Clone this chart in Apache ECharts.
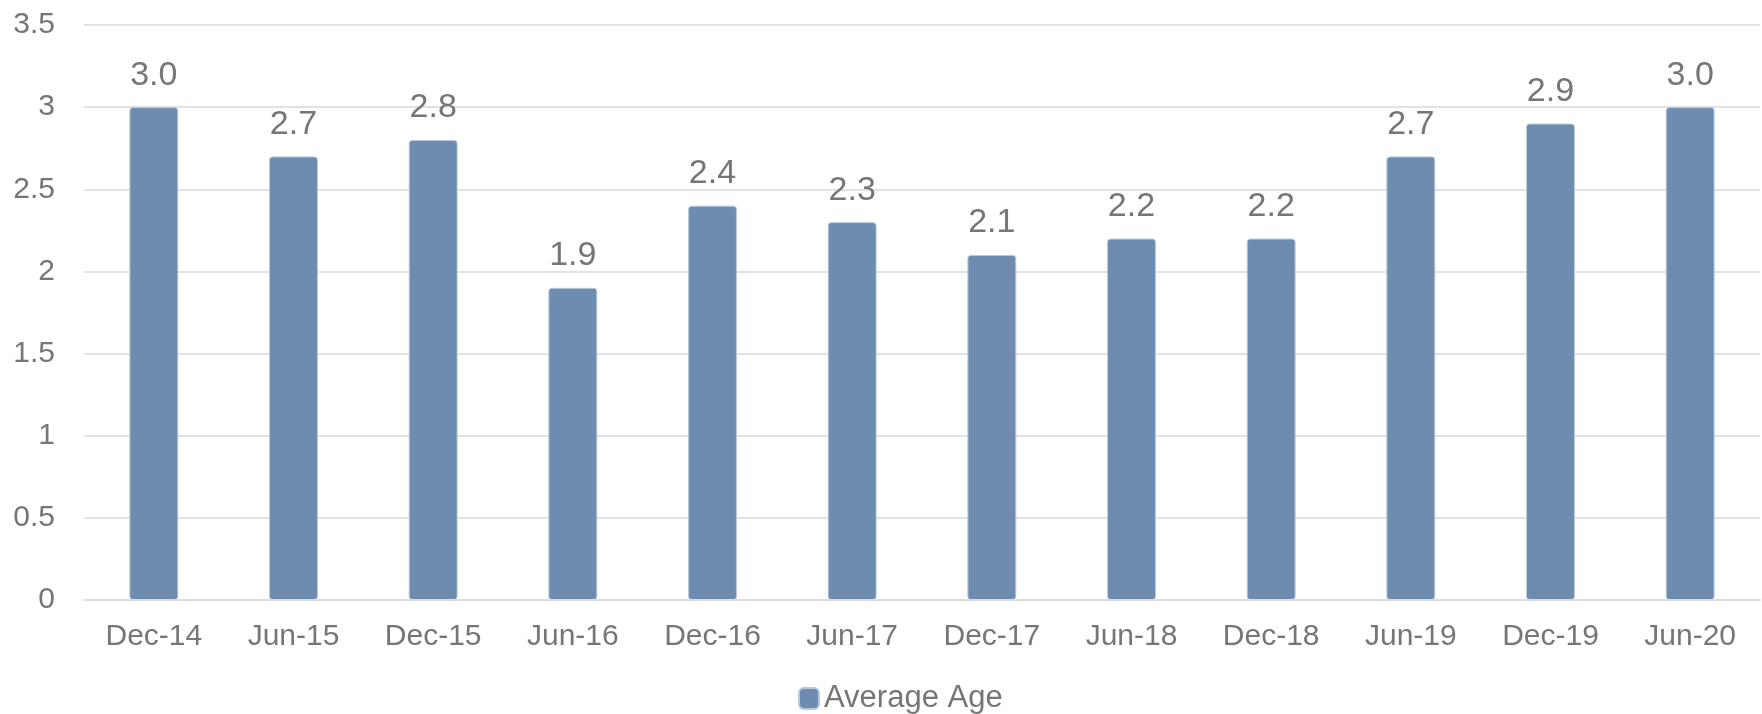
<!DOCTYPE html>
<html>
<head>
<meta charset="utf-8">
<script src="https://cdn.jsdelivr.net/npm/echarts@6/dist/echarts.min.js"></script>
<style>
  html, body { margin: 0; padding: 0; background: #fff; }
  #chart { width: 1762px; height: 714px; }
</style>
</head>
<body>
<div id="chart"></div>
<script>
// data
var categories = ['Dec-14', 'Jun-15', 'Dec-15', 'Jun-16', 'Dec-16', 'Jun-17',
  'Dec-17', 'Jun-18', 'Dec-18', 'Jun-19', 'Dec-19', 'Jun-20'];
var averageAge = [3.0, 2.7, 2.8, 1.9, 2.4, 2.3, 2.1, 2.2, 2.2, 2.7, 2.9, 3.0];
var seriesName = 'Average Age';

var dom = document.getElementById('chart');
var myChart = echarts.init(dom, null, { renderer: 'canvas' });

var textGrey = '#767676';

var option = {
  animation: false,
  grid: {
    left: 84,
    right: 2,
    top: 25,
    bottom: 114
  },
  legend: {
    data: [seriesName],
    left: 793,
    top: 678,
    itemWidth: 20,
    itemHeight: 21,
    icon: 'roundRect',
    textStyle: {
      color: textGrey,
      fontSize: 31,
      fontFamily: 'Liberation Sans'
    }
  },
  xAxis: {
    type: 'category',
    data: categories,
    z: 3,
    axisTick: { show: false },
    axisLine: {
      lineStyle: { color: '#dedede', width: 2 }
    },
    axisLabel: {
      color: textGrey,
      fontSize: 30,
      fontFamily: 'Liberation Sans',
      margin: 22
    }
  },
  yAxis: {
    type: 'value',
    min: 0,
    max: 3.5,
    interval: 0.5,
    axisLine: { show: false },
    axisTick: { show: false },
    splitLine: {
      lineStyle: { color: '#e2e2e2', width: 2 }
    },
    axisLabel: {
      color: textGrey,
      fontSize: 30,
      fontFamily: 'Liberation Sans',
      margin: 29
    }
  },
  series: [{
    name: seriesName,
    type: 'bar',
    data: averageAge,
    barWidth: '35%',
    itemStyle: {
      color: '#6d8cb0',
      borderColor: '#b9c8da',
      borderWidth: 1,
      borderRadius: 3
    },
    label: {
      show: true,
      position: 'top',
      distance: 15,
      color: textGrey,
      fontSize: 34,
      fontFamily: 'Liberation Sans',
      formatter: function (p) { return p.value.toFixed(1); }
    }
  }]
};

myChart.setOption(option);
window.addEventListener('resize', myChart.resize);
</script>
</body>
</html>
